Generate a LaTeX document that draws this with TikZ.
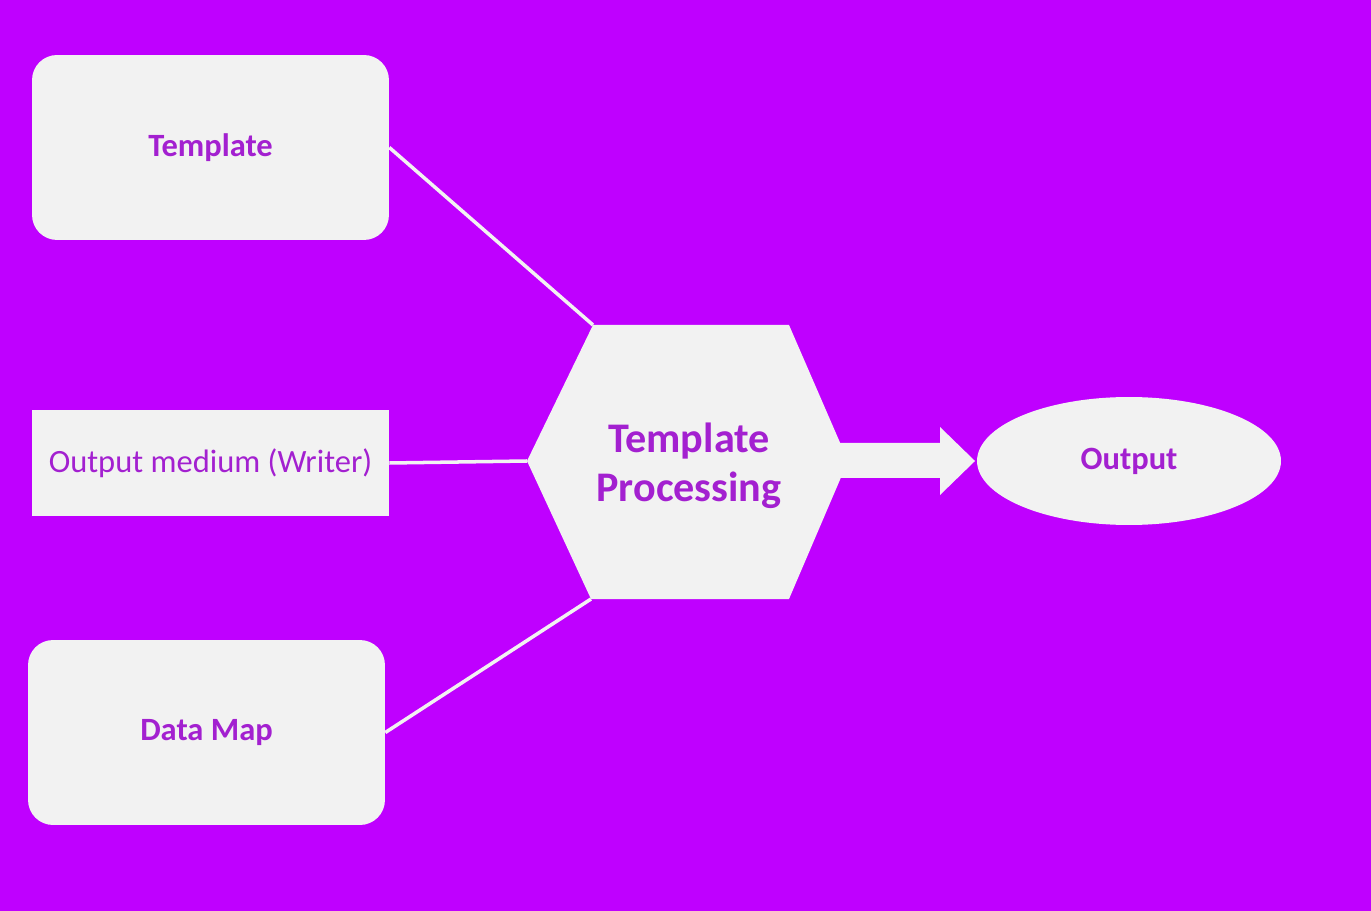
\documentclass[tikz,border=0pt]{standalone}
\usepackage{fontspec}
\setmainfont{Carlito}
\usetikzlibrary{arrows.meta, positioning, shapes.geometric}

\definecolor{sfondo}{RGB}{191,0,255}
\definecolor{riempi}{RGB}{242,242,242}
\definecolor{testo}{RGB}{163,32,208}

\tikzset{
	blocco/.style={fill=riempi, draw=none, text=testo, minimum width=7.14cm, minimum height=3.7cm, rounded corners=0.5cm, inner sep=0pt},
	medio/.style={fill=riempi, draw=none, text=testo, minimum width=7.14cm, minimum height=2.12cm, inner sep=0pt},
	uscita/.style={ellipse, fill=riempi, draw=none, text=testo, minimum width=6.08cm, minimum height=2.56cm, inner sep=0pt},
	filo/.style={draw=riempi, line width=2pt},
	grassetto/.style={font=\fontsize{18.5}{22}\selectfont\bfseries},
	normale/.style={font=\fontsize{18.5}{22}\selectfont}
}

\begin{document}
\begin{tikzpicture}[x=0.02cm, y=-0.02cm]
		
		% Sfondo
		\fill[sfondo] (0,0) rectangle (1371,911);
		\useasboundingbox (0,0) rectangle (1371,911);
		
		% Blocchi di ingresso
		\node[blocco, grassetto] (B_template) at (210.5,147.5) {Template};
		\node[medio, normale]    (B_writer)   at (210.5,463)   {Output medium (Writer)};
		\node[blocco, grassetto] (B_datamap)  at (206.5,732.5) {Data Map};
		
		% Vertici dell'esagono
		\coordinate (H_top_l) at (593,325);
		\coordinate (H_top_r) at (789,325);
		\coordinate (H_right) at (848,461);
		\coordinate (H_bot_r) at (789,599);
		\coordinate (H_bot_l) at (591,599);
		\coordinate (H_left)  at (527,461);
		
		% Esagono di elaborazione
		\fill[riempi] (H_top_l) -- (H_top_r) -- (H_right) -- (H_bot_r) -- (H_bot_l) -- (H_left) -- cycle;
		\node[text=testo, align=center, font=\fontsize{24}{28}\selectfont\bfseries] (B_proc) at (689,466) {Template\\Processing};
		
		% Collegamenti verso l'esagono
		\draw[filo] (B_template.east) -- (H_top_l);
		\draw[filo] (B_writer.east)   -- (H_left);
		\draw[filo] (B_datamap.east)  -- (H_bot_l);
		
		% Uscita
		\node[uscita, grassetto] (B_output) at (1129,461) {Output};
		
		% Freccia a blocco
		\coordinate (F_tip) at (975,461);
		\fill[riempi] (837,443) -- (940,443) -- (940,427) -- (F_tip) -- (940,495) -- (940,478) -- (837,478) -- cycle;
		
	\end{tikzpicture}
\end{document}
